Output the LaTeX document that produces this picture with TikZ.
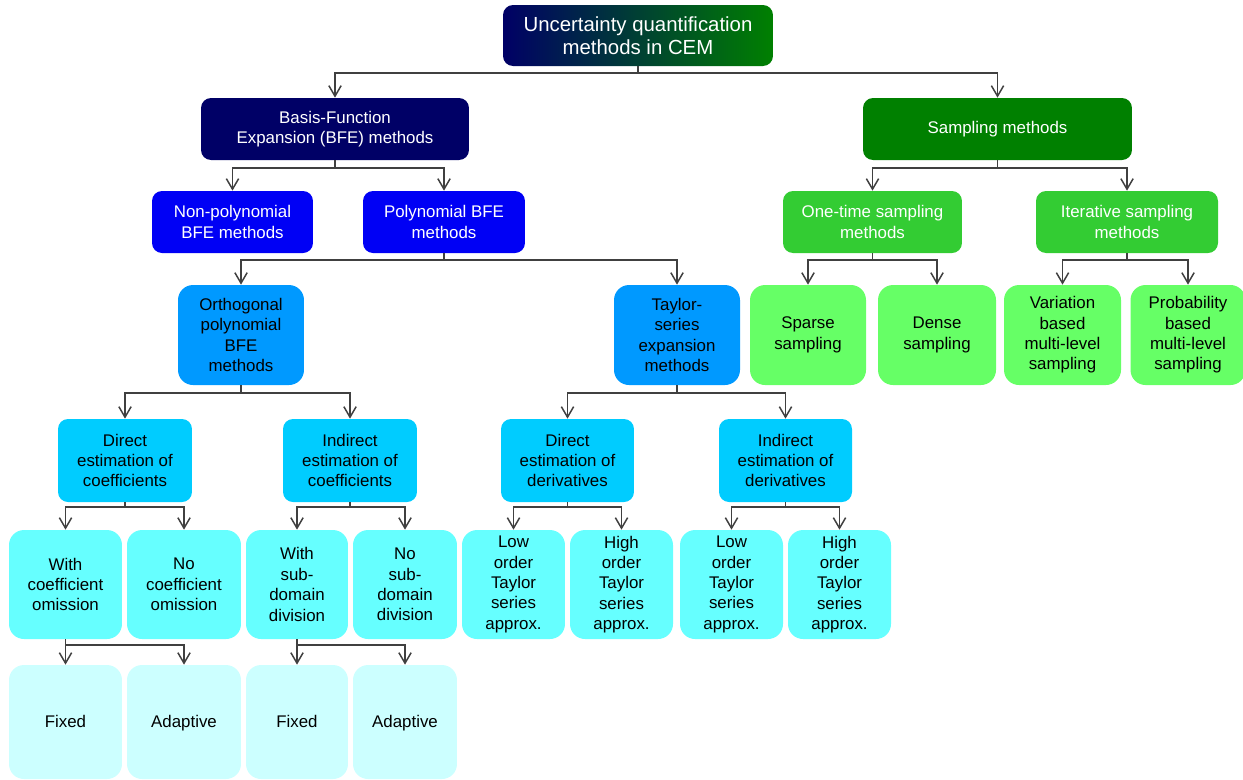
\documentclass[tikz,border=0pt]{standalone}
\usepackage{fontspec}
\setmainfont{Liberation Sans}
\usetikzlibrary{arrows.meta,positioning}

\definecolor{uqnavy}{HTML}{000066}
\definecolor{uqgreen}{HTML}{008000}
\definecolor{bfeblue}{HTML}{0000F5}
\definecolor{limegreen}{HTML}{33CC33}
\definecolor{azure}{HTML}{0099FF}
\definecolor{lightgreen}{HTML}{66FF66}
\definecolor{skyblue}{HTML}{00CCFF}
\definecolor{aqua}{HTML}{66FFFF}
\definecolor{paleaqua}{HTML}{CCFFFF}
\definecolor{linegray}{HTML}{404040}

\begin{document}
\begin{tikzpicture}[x=0.02cm, y=-0.02cm,
    box/.style={rounded corners=0.2cm, inner sep=0pt, align=center,
        font=\fontsize{9.6}{11.6}\selectfont},
    lvlone/.style={box, text=white, minimum height=1.24cm},
    lvltwo/.style={box, text=white, minimum height=1.24cm},
    lvlthree/.style={box, rounded corners=0.3cm, minimum height=2cm},
    lvlfour/.style={box, fill=skyblue, minimum height=1.66cm},
    lvlfive/.style={box, rounded corners=0.3cm, fill=aqua, minimum height=2.18cm},
    lvlsix/.style={box, rounded corners=0.3cm, fill=paleaqua, minimum height=2.28cm,
        text height=1.6ex, text depth=0.45ex},
    link/.style={draw=linegray, line width=0.85pt, -{Straight Barb[length=6pt,width=7pt]}}]

    \useasboundingbox (0,0) rectangle (1243,779);

    % Root
    \node[box, left color=uqnavy, right color=uqgreen, text=white,
        minimum width=5.4cm, minimum height=1.22cm,
        font=\fontsize{11.6}{13.2}\selectfont] (uq) at (638,35.5)
        {Uncertainty quantification\\methods in CEM};

    % Two families
    \node[lvlone, fill=uqnavy, minimum width=5.36cm] (bfe) at (335,129)
        {Basis-Function\\Expansion (BFE) methods};
    \node[lvlone, fill=uqgreen, minimum width=5.38cm] (samp) at (997.5,129)
        {Sampling methods};

    \node[lvltwo, fill=bfeblue, minimum width=3.22cm] (nonpoly) at (232.5,222)
        {Non-polynomial\\BFE methods};
    \node[lvltwo, fill=bfeblue, minimum width=3.24cm] (poly) at (444,222)
        {Polynomial BFE\\methods};
    \node[lvltwo, fill=limegreen, minimum width=3.58cm] (onetime) at (872.5,222)
        {One-time sampling\\methods};
    \node[lvltwo, fill=limegreen, minimum width=3.64cm] (iter) at (1127,222)
        {Iterative sampling\\methods};

    \node[lvlthree, fill=azure, minimum width=2.52cm] (ortho) at (241,335)
        {Orthogonal\\polynomial\\BFE\\methods};
    \node[lvlthree, fill=azure, minimum width=2.52cm] (taylor) at (677,335)
        {Taylor-\\series\\expansion\\methods};
    \node[lvlthree, fill=lightgreen, minimum width=2.32cm] (sparse) at (808,335)
        {Sparse\\sampling};
    \node[lvlthree, fill=lightgreen, minimum width=2.36cm] (dense) at (937,335)
        {Dense\\sampling};
    \node[lvlthree, fill=lightgreen, minimum width=2.34cm] (variation) at (1062.5,335)
        {Variation\\based\\multi-level\\sampling};
    \node[lvlthree, fill=lightgreen, minimum width=2.3cm] (probability) at (1188,335)
        {Probability\\based\\multi-level\\sampling};

    % Estimation
    \node[lvlfour, minimum width=2.68cm] (dircoef) at (125,460.5)
        {Direct\\estimation of\\coefficients};
    \node[lvlfour, minimum width=2.68cm] (indcoef) at (350,460.5)
        {Indirect\\estimation of\\coefficients};
    \node[lvlfour, minimum width=2.66cm] (dirderiv) at (567.5,460.5)
        {Direct\\estimation of\\derivatives};
    \node[lvlfour, minimum width=2.66cm] (indderiv) at (785.5,460.5)
        {Indirect\\estimation of\\derivatives};

    \node[lvlfive, minimum width=2.26cm] (withomit) at (65.5,584.5)
        {With\\coefficient\\omission};
    \node[lvlfive, minimum width=2.28cm] (noomit) at (184,584.5)
        {No\\coefficient\\omission};
    \node[lvlfive, minimum width=2.04cm] (withsub) at (297,584.5)
        {With\\sub-\\domain\\division};
    \node[lvlfive, minimum width=2.08cm] (nosub) at (405,584.5)
        {No\\sub-\\domain\\division};
    \node[lvlfive, minimum width=2.06cm] (lowdir) at (513.5,584.5)
        {Low\\order\\Taylor\\series\\approx.};
    \node[lvlfive, minimum width=2.06cm] (highdir) at (621.5,584.5)
        {High\\order\\Taylor\\series\\approx.};
    \node[lvlfive, minimum width=2.06cm] (lowind) at (731.5,584.5)
        {Low\\order\\Taylor\\series\\approx.};
    \node[lvlfive, minimum width=2.06cm] (highind) at (839.5,584.5)
        {High\\order\\Taylor\\series\\approx.};

    \node[lvlsix, minimum width=2.26cm] (fixedA) at (65.5,722) {Fixed};
    \node[lvlsix, minimum width=2.28cm] (adaptA) at (184,722) {Adaptive};
    \node[lvlsix, minimum width=2.04cm] (fixedB) at (297,722) {Fixed};
    \node[lvlsix, minimum width=2.08cm] (adaptB) at (405,722) {Adaptive};

    % Elbow connectors: parent/child/bar height
    \foreach \p/\c/\y in {uq/bfe/73, uq/samp/73,
        bfe/nonpoly/168, bfe/poly/168, samp/onetime/168, samp/iter/168,
        poly/ortho/260, poly/taylor/260, onetime/sparse/260, onetime/dense/260,
        iter/variation/260, iter/probability/260,
        ortho/dircoef/393, ortho/indcoef/393, taylor/dirderiv/393, taylor/indderiv/393,
        dircoef/withomit/507, dircoef/noomit/507, indcoef/withsub/507, indcoef/nosub/507,
        dirderiv/lowdir/507, dirderiv/highdir/507, indderiv/lowind/507, indderiv/highind/507,
        withomit/fixedA/645, withomit/adaptA/645, withsub/fixedB/645, withsub/adaptB/645}
        \draw[link] (\p.south) -- (\p.south |- 0,\y) -| (\c.north);
\end{tikzpicture}
\end{document}
